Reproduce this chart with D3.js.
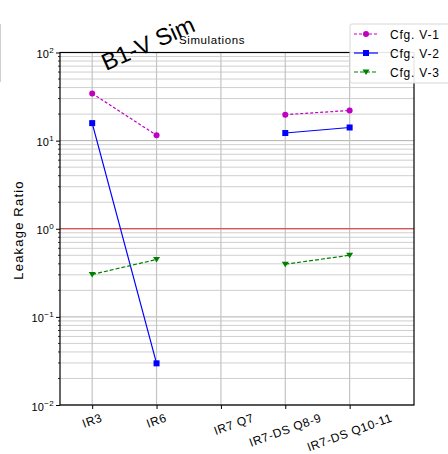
<!DOCTYPE html>
<html>
<head>
<meta charset="utf-8">
<script src="https://cdn.jsdelivr.net/npm/d3@7/dist/d3.min.js"></script>
<style>
  html, body { margin: 0; padding: 0; background: #fff; }
  svg { display: block; font-family: "Liberation Sans", Arial, sans-serif; }
  .xlab { white-space: pre; }
</style>
</head>
<body>
<svg id="chart" width="448" height="454"></svg>
<script>
// Locations along the ring
const categories = ["IR3", "IR6", "       IR7 Q7", "IR7-DS Q8-9", "IR7-DS Q10-11"];

// Leakage ratio per configuration (null = no simulation at that location)
const cfgV1 = [34.3, 11.5, null, 19.7, 22.0];
const cfgV2 = [15.8, 0.0297, null, 12.2, 14.1];
const cfgV3 = [0.303, 0.448, null, 0.396, 0.50];

const seriesNames = ["Cfg. V-1", "Cfg. V-2", "Cfg. V-3"];
const yTickExponents = [-2, -1, 0, 1, 2];

const series = [
  { name: seriesNames[0], values: cfgV1, color: "#c000c0", dash: "3,2", marker: "circle" },
  { name: seriesNames[1], values: cfgV2, color: "#0000ff", dash: null, marker: "square" },
  { name: seriesNames[2], values: cfgV3, color: "#008000", dash: "4,2", marker: "triangleDown" }
];

const svg = d3.select("#chart");
const plotLeft = 60, plotRight = 414, plotTop = 52.5, plotBottom = 405;

const x = d3.scaleLinear().domain([-0.5, 5]).range([plotLeft, plotRight]);
const y = d3.scaleLog().domain([0.01, 100]).range([plotBottom, plotTop]);

// minor + major horizontal grid
const minorVals = [];
for (let e = -2; e < 2; e++) {
  for (let m = 2; m <= 9; m++) minorVals.push(m * Math.pow(10, e));
}
svg.append("g").selectAll("line").data(minorVals).join("line")
  .attr("x1", plotLeft).attr("x2", plotRight)
  .attr("y1", d => y(d)).attr("y2", d => y(d))
  .attr("stroke", "#cfcfcf").attr("stroke-width", 1);
svg.append("g").selectAll("line").data(yTickExponents.map(e => Math.pow(10, e))).join("line")
  .attr("x1", plotLeft).attr("x2", plotRight)
  .attr("y1", d => y(d)).attr("y2", d => y(d))
  .attr("stroke", "#b0b0b0").attr("stroke-width", 1);

// vertical grid at each location
svg.append("g").selectAll("line").data(categories).join("line")
  .attr("x1", (d, i) => x(i)).attr("x2", (d, i) => x(i))
  .attr("y1", plotTop).attr("y2", plotBottom)
  .attr("stroke", "#c4c4c4").attr("stroke-width", 1.2);

// unity reference
svg.append("line")
  .attr("x1", plotLeft).attr("x2", plotRight)
  .attr("y1", y(1)).attr("y2", y(1))
  .attr("stroke", "#e03030").attr("stroke-width", 1.2);

// frame
svg.append("rect")
  .attr("x", plotLeft).attr("y", plotTop).attr("width", plotRight - plotLeft).attr("height", plotBottom - plotTop)
  .attr("fill", "none").attr("stroke", "#000").attr("stroke-width", 1.2);

// y axis: major ticks with power-of-ten labels, plus minor ticks
const yAxis = d3.axisLeft(y).tickValues(yTickExponents.map(e => Math.pow(10, e)))
  .tickSize(4).tickFormat("");
const gy = svg.append("g").attr("transform", `translate(${plotLeft},0)`).call(yAxis);
gy.select(".domain").remove();
svg.append("g").selectAll("line").data(minorVals).join("line")
  .attr("x1", plotLeft - 2).attr("x2", plotLeft)
  .attr("y1", d => y(d)).attr("y2", d => y(d))
  .attr("stroke", "#000").attr("stroke-width", 0.8);

const yLabels = svg.append("g").selectAll("text").data(yTickExponents).join("text")
  .attr("x", plotLeft - 6).attr("y", e => y(Math.pow(10, e)) + 5.5)
  .attr("text-anchor", "end").attr("font-size", 11).attr("fill", "#000")
  .attr("letter-spacing", 0.3);
yLabels.append("tspan").text("10");
yLabels.append("tspan").attr("dy", -5).attr("font-size", 8)
  .text(e => e < 0 ? "\u2212" + Math.abs(e) : String(e));

// x axis ticks and rotated labels, each label's bounding box centred under its tick
const xAxis = d3.axisBottom(x).tickValues(d3.range(categories.length)).tickSize(4).tickFormat("");
const gx = svg.append("g").attr("transform", `translate(0,${plotBottom})`).call(xAxis);
gx.select(".domain").remove();
const angle = 20, rad = angle * Math.PI / 180, labelH = 11;
svg.append("g").selectAll("text").data(categories).join("text")
  .attr("class", "xlab")
  .attr("text-anchor", "middle").attr("dominant-baseline", "central")
  .attr("font-size", 12).attr("letter-spacing", 0.6).attr("fill", "#000")
  .text(d => d)
  .attr("transform", function (d, i) {
    const w = this.getComputedTextLength();
    const boxH = w * Math.sin(rad) + labelH * Math.cos(rad);
    return `translate(${x(i)},${plotBottom + 7 + boxH / 2}) rotate(${-angle})`;
  });

// axis title
svg.append("text")
  .attr("transform", `translate(23,230) rotate(-90)`)
  .attr("text-anchor", "middle").attr("font-size", 13).attr("letter-spacing", 1.2)
  .text("Leakage Ratio");

// title
svg.append("text").attr("x", 212).attr("y", 44).attr("text-anchor", "middle")
  .attr("font-size", 11.5).attr("letter-spacing", 0.6).text("Simulations");

// series lines and markers
const line = d3.line().defined(d => d.v != null).x(d => x(d.i)).y(d => y(d.v));
function drawMarker(g, kind, cx, cy, color) {
  if (kind === "circle") {
    g.append("circle").attr("cx", cx).attr("cy", cy).attr("r", 3).attr("fill", color);
  } else if (kind === "square") {
    g.append("rect").attr("x", cx - 3).attr("y", cy - 3).attr("width", 6).attr("height", 6).attr("fill", color);
  } else {
    g.append("path").attr("d", `M${cx - 3.5},${cy - 2.5}L${cx + 3.5},${cy - 2.5}L${cx},${cy + 3}Z`).attr("fill", color);
  }
}
series.forEach(s => {
  const pts = s.values.map((v, i) => ({ i, v }));
  const g = svg.append("g");
  g.append("path").datum(pts).attr("d", line)
    .attr("fill", "none").attr("stroke", s.color).attr("stroke-width", 1.2)
    .attr("stroke-dasharray", s.dash);
  pts.filter(p => p.v != null).forEach(p => drawMarker(g, s.marker, x(p.i), y(p.v), s.color));
});

// annotation
svg.append("text")
  .attr("transform", "translate(106,71) rotate(-24)")
  .attr("font-size", 23.5).attr("fill", "#000").text("B1-V Sim");

// faint edge at the far left
svg.append("line").attr("x1", 0.5).attr("x2", 0.5).attr("y1", 24).attr("y2", 82)
  .attr("stroke", "#d0d0d0");

// legend
const lg = svg.append("g").attr("transform", "translate(350,24)");
lg.append("rect").attr("x", 0).attr("y", 0).attr("width", 104).attr("height", 59)
  .attr("rx", 2).attr("fill", "#fff").attr("fill-opacity", 0.9).attr("stroke", "#d8d8d8");
series.forEach((s, k) => {
  const yy = 10 + k * 19;
  lg.append("line").attr("x1", 4).attr("x2", 28).attr("y1", yy).attr("y2", yy)
    .attr("stroke", s.color).attr("stroke-width", 1.2).attr("stroke-dasharray", s.dash);
  drawMarker(lg, s.marker, 16, yy, s.color);
  lg.append("text").attr("x", 40).attr("y", yy + 4.5).attr("font-size", 12)
    .attr("letter-spacing", 0.8).text(s.name);
});
</script>
</body>
</html>
